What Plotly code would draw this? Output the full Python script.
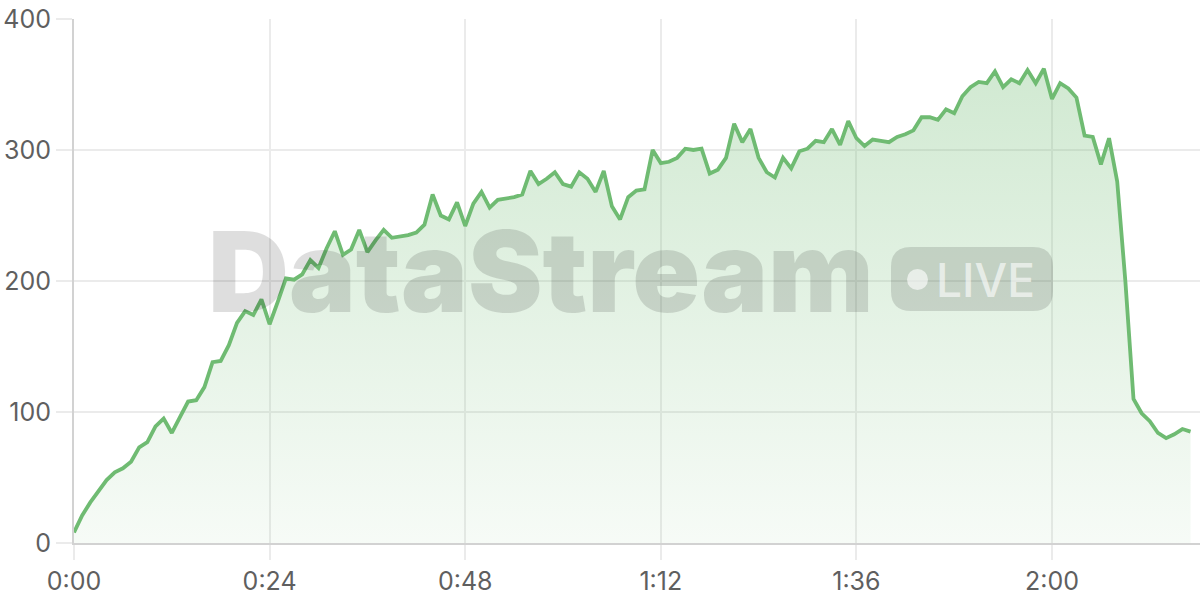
import plotly.graph_objects as go

# throughput samples, one per second
throughput = [
    8, 21, 31, 40, 48, 54, 57, 62, 73, 77,
    89, 95, 84, 96, 108, 109, 119, 138, 139, 151,
    168, 177, 174, 186, 167, 184, 202, 201, 205, 216,
    210, 225, 238, 220, 224, 239, 222, 231, 239, 233,
    234, 235, 237, 243, 266, 250, 247, 260, 242, 259,
    268, 256, 262, 263, 264, 266, 284, 274, 278, 283,
    274, 272, 283, 278, 268, 284, 257, 247, 264, 269,
    270, 300, 290, 291, 294, 301, 300, 301, 282, 285,
    294, 320, 306, 316, 294, 283, 279, 294, 286, 299,
    301, 307, 306, 316, 304, 322, 309, 303, 308, 307,
    306, 310, 312, 315, 325, 325, 323, 331, 328, 341,
    348, 352, 351, 360, 348, 354, 351, 361, 351, 362,
    339, 351, 347, 340, 311, 310, 289, 309, 276, 200,
    110, 99, 93, 84, 80, 83, 87, 85,
]
seconds = list(range(len(throughput)))

x_ticks = [0, 24, 48, 72, 96, 120]
x_labels = [f"{t // 60}:{t % 60:02d}" for t in x_ticks]
y_ticks = [0, 100, 200, 300, 400]

GREEN = "rgb(111,187,114)"
WM = "rgba(0,0,0,0.13)"
WM_TEXT = "rgba(255,255,255,0.62)"

W, H = 1200, 600
# plot area in pixels (used to place the watermark)
L, R, T, B = 74, 1200, 19, 543


def px(x):
    return (x - L) / (R - L)


def py(y):
    return (B - y) / (B - T)


def main():
    fig = go.Figure()

    fig.add_trace(go.Scatter(
        x=seconds,
        y=throughput,
        mode="lines",
        line=dict(color=GREEN, width=3.8),
        fill="tozeroy",
        fillgradient=dict(
            type="vertical",
            colorscale=[[0, "rgba(111,187,114,0.06)"], [1, "rgba(111,187,114,0.32)"]],
        ),
        hoverinfo="skip",
        showlegend=False,
    ))

    # rounded "LIVE" badge
    x0, x1 = px(891), px(1053)
    y0, y1 = py(311), py(247)
    rx, ry = 20 / (R - L), 20 / (B - T)
    path = (
        f"M {x0 + rx},{y0} L {x1 - rx},{y0} Q {x1},{y0} {x1},{y0 + ry} "
        f"L {x1},{y1 - ry} Q {x1},{y1} {x1 - rx},{y1} "
        f"L {x0 + rx},{y1} Q {x0},{y1} {x0},{y1 - ry} "
        f"L {x0},{y0 + ry} Q {x0},{y0} {x0 + rx},{y0} Z"
    )
    fig.add_shape(type="path", path=path, xref="paper", yref="paper",
                  fillcolor=WM, line=dict(width=0), layer="above")
    fig.add_shape(type="circle", xref="paper", yref="paper",
                  x0=px(907), x1=px(928), y0=py(290), y1=py(269),
                  fillcolor=WM_TEXT, line=dict(width=0), layer="above")

    fig.add_annotation(text="DataStream", xref="paper", yref="paper",
                       x=px(541), y=py(271), xanchor="center", yanchor="middle",
                       showarrow=False,
                       font=dict(family="Inter", size=112, color=WM, weight=900))
    fig.add_annotation(text="LIVE", xref="paper", yref="paper",
                       x=px(985), y=py(280), xanchor="center", yanchor="middle",
                       showarrow=False,
                       font=dict(family="Inter", size=46, color=WM_TEXT, weight=500))

    fig.update_layout(
        width=W, height=H,
        margin=dict(l=L, r=W - R, t=T, b=H - B),
        paper_bgcolor="white",
        plot_bgcolor="white",
        font=dict(family="Inter", size=25, color="#5f5f5f"),
    )
    fig.update_xaxes(
        range=[0, 138.16],
        tickvals=x_ticks, ticktext=x_labels,
        showgrid=True, gridcolor="#ebebeb", gridwidth=2,
        ticks="outside", ticklen=15, tickwidth=2, tickcolor="#ebebeb",
        showline=True, linecolor="#d2d2d2", linewidth=2,
        zeroline=False, fixedrange=True, automargin=False,
        ticklabeloverflow="allow",
    )
    fig.update_yaxes(
        range=[0, 400],
        tickvals=y_ticks,
        showgrid=True, gridcolor="#ebebeb", gridwidth=2,
        ticks="outside", ticklen=16, tickwidth=2, tickcolor="#ebebeb",
        showline=True, linecolor="#d2d2d2", linewidth=2,
        zeroline=False, fixedrange=True, automargin=False,
        ticklabeloverflow="allow",
    )

    # drop the default 8px page margin so the figure sits at the window corner
    fig.write_html("out.html", config={"displayModeBar": False},
                   post_script="document.body.style.margin='0';")


if __name__ == "__main__":
    main()
